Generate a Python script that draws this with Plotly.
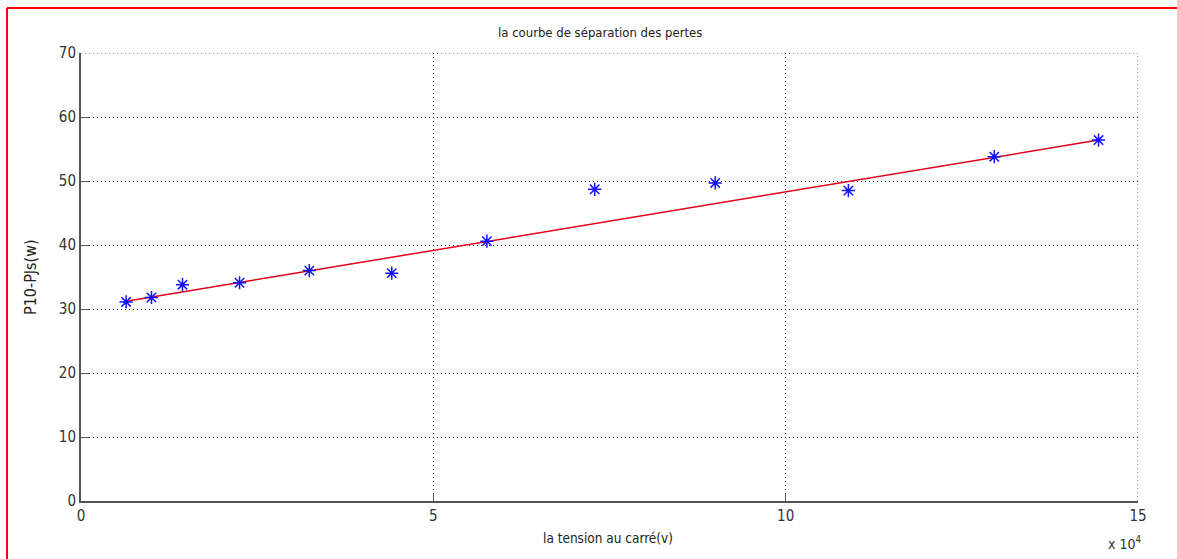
import plotly.graph_objects as go

# squared voltage (V^2) and measured P10 - PJs losses (W)
tension_carre = [6400, 10000, 14400, 22500, 32400, 44100, 57600, 72900, 90000, 108900, 129600, 144400]
pertes = [31.1, 31.8, 33.8, 34.1, 36.0, 35.6, 40.6, 48.7, 49.7, 48.5, 53.8, 56.4]

# straight-line fit drawn between the first and last measurement
fit_x = [6400, 144400]
fit_y = [31.2, 56.4]

x_tickvals = [0, 50000, 100000, 150000]
x_ticktext = ["0", "5", "10", "15"]
y_tickvals = [0, 10, 20, 30, 40, 50, 60, 70]

X_MAX, Y_MAX = 150000, 70

FONT = "DejaVu Sans Condensed, Liberation Sans Narrow, Liberation Sans, sans-serif"

W, H = 1177, 559
L, R, T, B = 81, 1138, 53, 501   # plot area in pixels


def px(x):
    return (x - L) / (R - L)


def py(y):
    return (B - y) / (B - T)


fig = go.Figure()

fig.add_trace(go.Scatter(
    x=fit_x, y=fit_y, mode="lines",
    line=dict(color="#e3001b", width=1.5),
    showlegend=False, hoverinfo="skip",
))

fig.add_trace(go.Scatter(
    x=tension_carre, y=pertes, mode="markers",
    marker=dict(symbol="asterisk-open", size=11, color="#1010ff",
                line=dict(color="#1010ff", width=1.5)),
    showlegend=False,
))

GRID_DASH = "1px,3px"

axis_common = dict(
    showgrid=True, gridcolor="#222222", gridwidth=1, griddash=GRID_DASH,
    zeroline=False, showline=True, linecolor="#555555", linewidth=2,
    ticks="inside", ticklen=8, tickcolor="#555555", tickwidth=1,
    tickfont=dict(family=FONT, size=15, color="#333333"),
)

fig.update_xaxes(range=[0, X_MAX], tickmode="array", tickvals=x_tickvals,
                 ticktext=x_ticktext, **axis_common)
fig.update_yaxes(range=[0, Y_MAX], tickmode="array", tickvals=y_tickvals, **axis_common)

annotations = [
    dict(text="la courbe de séparation des pertes", x=px(600), y=py(33),
         font=dict(family=FONT, size=13, color="#222222")),
    dict(text="la tension au carré(v)", x=px(608), y=py(538),
         font=dict(family=FONT, size=13.5, color="#222222")),
    dict(text="P10-PJs(w)", x=px(30), y=py(277), textangle=-90,
         font=dict(family=FONT, size=16, color="#222222")),
    dict(text="x 10<sup>4</sup>", x=px(1124), y=py(543),
         font=dict(family=FONT, size=14, color="#333333")),
]
for a in annotations:
    a.update(xref="paper", yref="paper", showarrow=False,
             xanchor="center", yanchor="middle")

shapes = [
    # dotted box edges at the top and right of the axes
    dict(type="line", xref="x", yref="y", x0=0, x1=X_MAX, y0=Y_MAX, y1=Y_MAX,
         line=dict(color="#222222", width=1, dash=GRID_DASH)),
    dict(type="line", xref="x", yref="y", x0=X_MAX, x1=X_MAX, y0=0, y1=Y_MAX,
         line=dict(color="#222222", width=1, dash=GRID_DASH)),
    # red frame along the top and left edges of the figure
    dict(type="line", xref="paper", yref="paper",
         x0=px(7), x1=px(W + 5), y0=py(8), y1=py(8),
         line=dict(color="#ff0000", width=2)),
    dict(type="line", xref="paper", yref="paper",
         x0=px(7), x1=px(7), y0=py(8), y1=py(H + 5),
         line=dict(color="#ff0000", width=2)),
]

fig.update_layout(
    width=W, height=H,
    margin=dict(l=L, r=W - R, t=T, b=H - B, pad=0),
    paper_bgcolor="white", plot_bgcolor="white",
    annotations=annotations, shapes=shapes,
    font=dict(family=FONT),
)

fig.write_html("out.html")
